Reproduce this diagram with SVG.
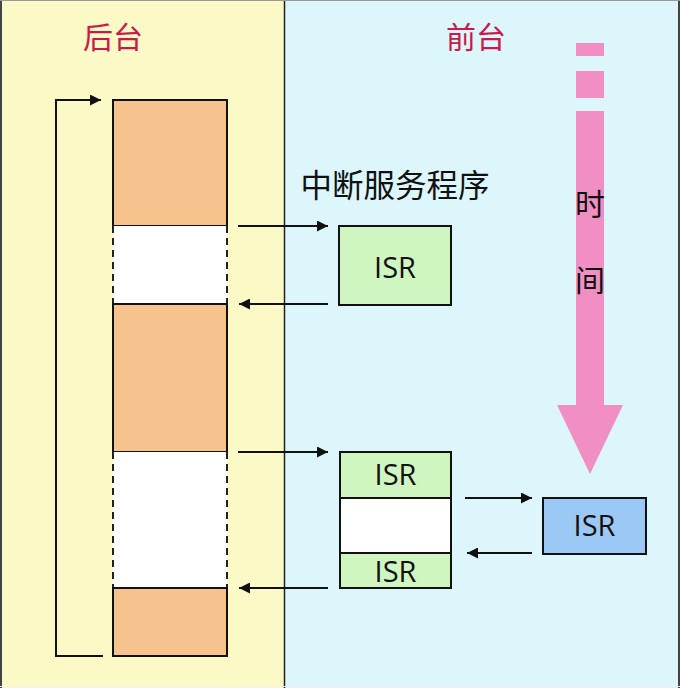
<svg xmlns="http://www.w3.org/2000/svg" width="680" height="688" viewBox="0 0 680 688">
  <defs>
    <style>
      .title { font-family: "Noto Sans CJK SC", "Liberation Sans", sans-serif; font-size: 30px; fill: #c81a4c; text-anchor: middle; }
      .lbl { font-family: "Noto Sans CJK SC", "Liberation Sans", sans-serif; font-size: 30px; fill: #111; text-anchor: middle; }
      .big { font-size: 31.5px; }
      .isr { font-family: "Open Sans", "Liberation Sans", sans-serif; font-size: 29px; fill: #111; text-anchor: middle; }
      .blk { stroke: #111; stroke-width: 2; }
      .orange { fill: #f6c38e; }
      .green { fill: #cff5c0; }
      .blue { fill: #9cc8f6; }
      .dash { stroke: #222; stroke-width: 2; stroke-dasharray: 7 5; fill: none; }
      .conn { stroke: #111; stroke-width: 2; fill: none; }
      .pink { fill: #f18fc5; }
    </style>
    <marker id="ah" viewBox="0 0 10 10" refX="10" refY="5" markerWidth="12" markerHeight="11" markerUnits="userSpaceOnUse" orient="auto">
      <path d="M0,0 L10,5 L0,10 z" fill="#111"/>
    </marker>
  </defs>

  <!-- backgrounds -->
  <rect x="0" y="0" width="284" height="688" fill="#fbf9c6"/>
  <rect x="284" y="0" width="396" height="688" fill="#dcf6fb"/>
  <line x1="284.5" y1="0" x2="284.5" y2="688" stroke="#222" stroke-width="1.5"/>
  <line x1="1" y1="0" x2="1" y2="688" stroke="#444" stroke-width="2"/>
  <line x1="679" y1="0" x2="679" y2="688" stroke="#444" stroke-width="2"/>
  <line x1="0" y1="0.5" x2="680" y2="0.5" stroke="#999" stroke-width="1"/>
  <line x1="0" y1="686.5" x2="680" y2="686.5" stroke="#eef" stroke-width="1"/>

  <g id="title-back"><text class="title" x="113" y="48">后台</text></g>
  <g id="title-front"><text class="title" x="476" y="48">前台</text></g>

  <!-- background task bar -->
  <g id="bg-task">
    <rect class="orange blk" x="113" y="100" width="114" height="126"/>
    <rect x="113" y="226" width="114" height="78" fill="#ffffff"/>
    <line class="dash" x1="113" y1="226" x2="113" y2="304"/>
    <line class="dash" x1="227" y1="226" x2="227" y2="304"/>
    <rect class="orange blk" x="113" y="304" width="114" height="148"/>
    <rect x="113" y="452" width="114" height="136" fill="#ffffff"/>
    <line class="dash" x1="113" y1="452" x2="113" y2="588"/>
    <line class="dash" x1="227" y1="452" x2="227" y2="588"/>
    <rect class="orange blk" x="113" y="588" width="114" height="68"/>
  </g>

  <g id="isr-label"><text class="lbl big" x="395" y="197">中断服务程序</text></g>

  <g id="isr1">
    <rect class="green blk" x="339" y="226" width="112" height="79"/>
    <text class="isr" x="395" y="278">ISR</text>
  </g>

  <g id="isr-stack">
    <rect class="green blk" x="340" y="452" width="111" height="46"/>
    <text class="isr" x="395.5" y="485">ISR</text>
    <rect class="blk" fill="#ffffff" x="340" y="498" width="111" height="55"/>
    <rect class="green blk" x="340" y="553" width="111" height="35"/>
    <text class="isr" x="395.5" y="582">ISR</text>
  </g>

  <g id="isr-nested">
    <rect class="blue blk" x="543" y="498" width="103" height="56"/>
    <text class="isr" x="594.5" y="536">ISR</text>
  </g>

  <!-- time arrow -->
  <g id="time-arrow">
    <rect class="pink" x="576" y="43" width="28" height="13"/>
    <rect class="pink" x="576" y="71" width="28" height="27"/>
    <rect class="pink" x="576" y="111" width="28" height="295"/>
    <polygon class="pink" points="557,405 623,405 590,474"/>
    <text class="lbl" x="590" y="215">时</text>
    <text class="lbl" x="590" y="291">间</text>
  </g>

  <!-- connectors -->
  <g id="connectors">
    <polyline class="conn" points="103,656 56,656 56,100 101,100" marker-end="url(#ah)"/>
    <line class="conn" x1="238" y1="226" x2="328" y2="226" marker-end="url(#ah)"/>
    <line class="conn" x1="328" y1="304" x2="239" y2="304" marker-end="url(#ah)"/>
    <line class="conn" x1="238" y1="452" x2="328" y2="452" marker-end="url(#ah)"/>
    <line class="conn" x1="328" y1="588" x2="239" y2="588" marker-end="url(#ah)"/>
    <line class="conn" x1="465" y1="498" x2="532" y2="498" marker-end="url(#ah)"/>
    <line class="conn" x1="532" y1="553" x2="467" y2="553" marker-end="url(#ah)"/>
  </g>
</svg>
